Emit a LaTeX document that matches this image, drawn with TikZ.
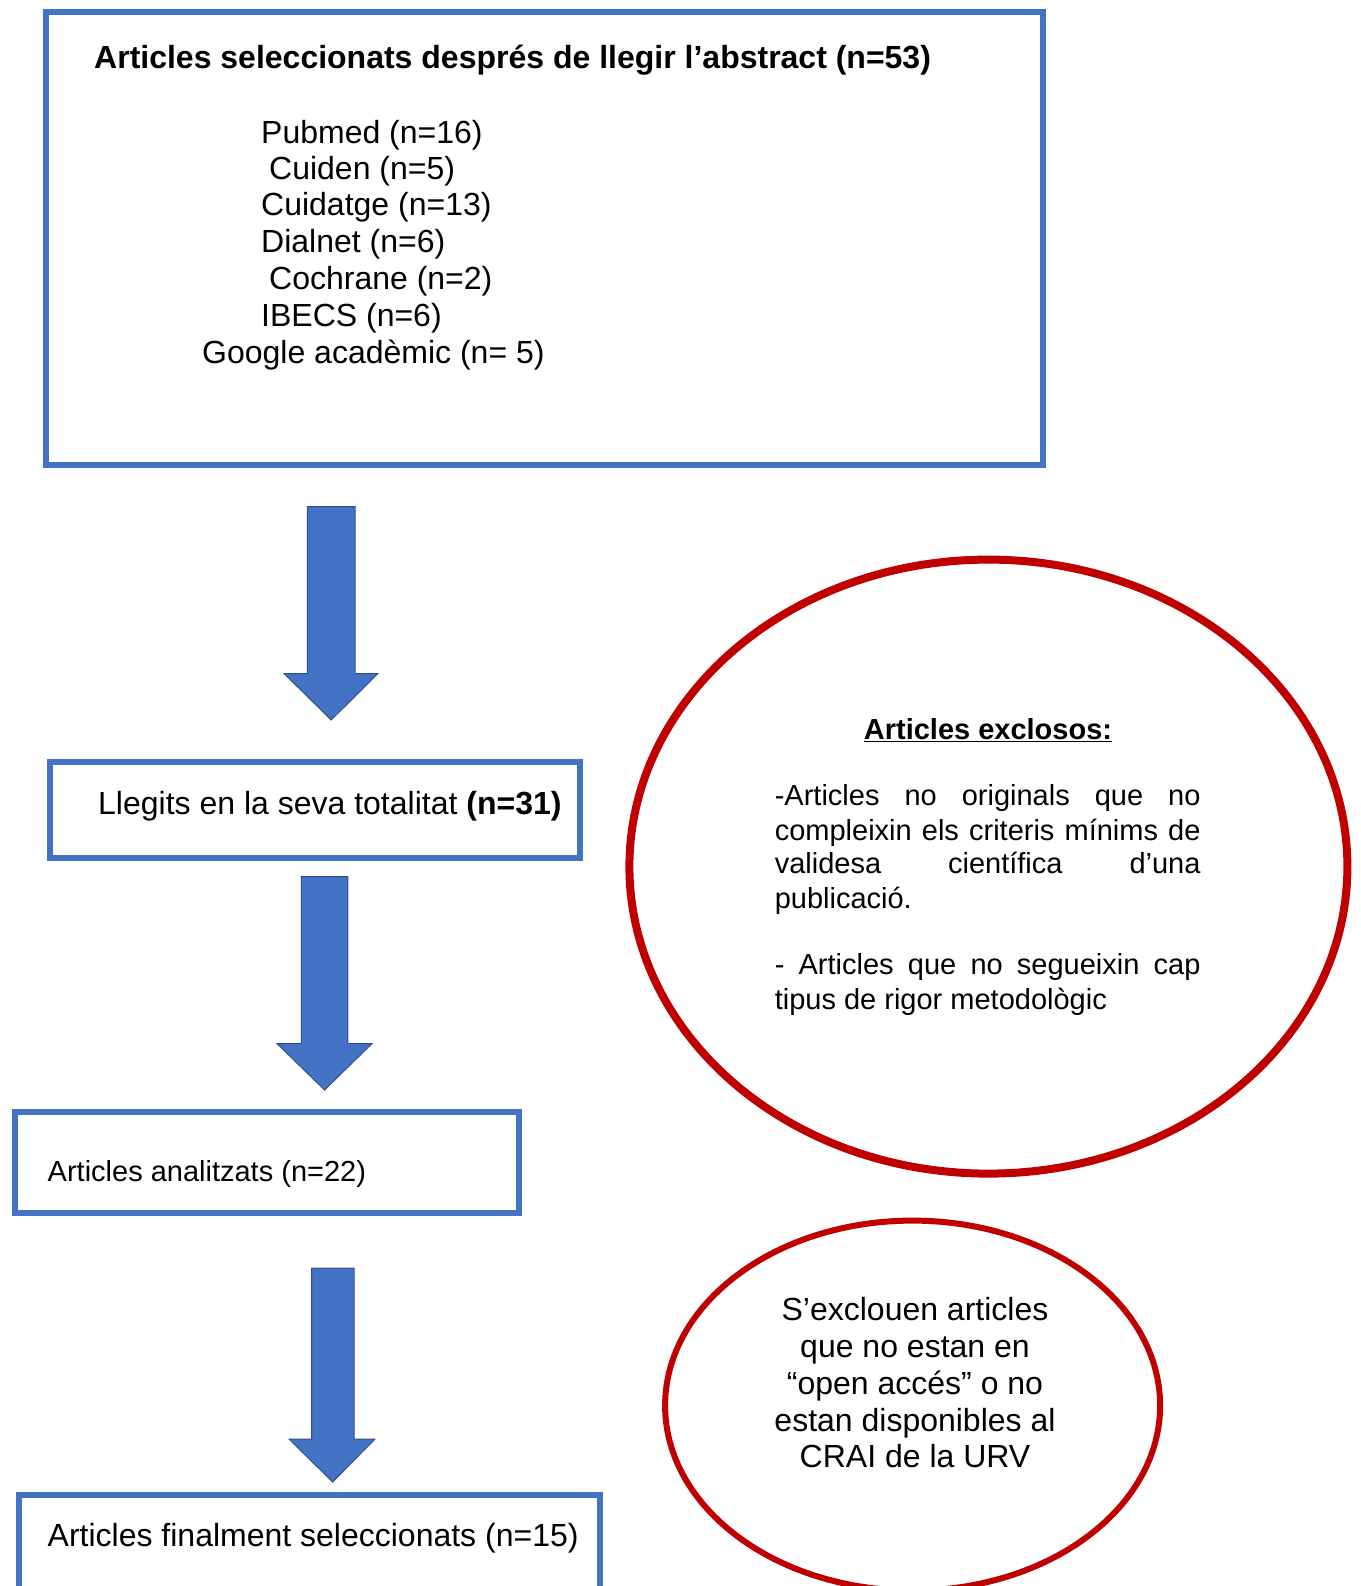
\documentclass[tikz,border=0pt]{standalone}
\usepackage{fontspec}
\setmainfont{Liberation Sans}
\usetikzlibrary{shapes.geometric}
\definecolor{boxblue}{HTML}{4472C4}
\definecolor{arrowedge}{HTML}{2F528F}
\definecolor{exred}{HTML}{C00000}
\newcommand\fbig{\fontsize{32}{38}\selectfont}
\newcommand\fsml{\fontsize{29}{34}\selectfont}
\begin{document}
\begin{tikzpicture}[x=1pt,y=-1pt,
  box/.style={draw=boxblue, line width=6pt, rectangle, inner sep=0pt},
  ln/.style={anchor=mid west, inner sep=0pt, font=\fbig},
  lns/.style={anchor=mid west, inner sep=0pt, font=\fsml},
  lnc/.style={anchor=mid, inner sep=0pt, font=\fbig},
  blockarrow/.style={fill=boxblue, draw=arrowedge, line width=1pt, line join=miter},
  oval/.style={ellipse, draw=exred, inner sep=0pt}]
\useasboundingbox (0,0) rectangle (1360,1586);
\clip (0,0) rectangle (1360,1586);
\fill[white] (0,0) rectangle (1360,1586);

% boxes
\node[box, minimum width=997pt, minimum height=453pt] (top) at (544.05,238.5) {};
\node[box, minimum width=530pt, minimum height=96pt] (read) at (314.5,809.5) {};
\node[box, minimum width=504pt, minimum height=100.5pt] (anal) at (267,1162.25) {};
\node[box, minimum width=581pt, minimum height=125.5pt] (final) at (309.5,1557.25) {};

% ellipses
\node[oval, line width=8pt, minimum width=718pt, minimum height=614pt] (excl) at (988.4,866.6) {};
\node[oval, line width=6pt, minimum width=495pt, minimum height=370pt] (open) at (912.6,1405.6) {};

% top box text
\node[ln, font=\fbig\bfseries] (title) at (94,66) {Articles seleccionats després de llegir l’abstract (n=53)};
\node[ln] (l1) at (261,140.5) {Pubmed (n=16)};
\node[ln] (l2) at (269,176.9) {Cuiden (n=5)};
\node[ln] (l3) at (261,213.3) {Cuidatge (n=13)};
\node[ln] (l4) at (261,249.7) {Dialnet (n=6)};
\node[ln] (l5) at (269,287.1) {Cochrane (n=2)};
\node[ln] (l6) at (261,323.5) {IBECS (n=6)};
\node[ln] (l7) at (202,360.9) {Google acadèmic (n= 5)};

% other boxes text
\node[ln] (readtxt) at (98,812) {Llegits en la seva totalitat \textbf{(n=31)}};
\node[lns] (analtxt) at (47.5,1179) {Articles analitzats (n=22)};
\node[ln] (finaltxt) at (47.5,1544) {Articles finalment seleccionats (n=15)};

% excluded ellipse text
\node[anchor=mid, inner sep=0pt, font=\fsml\bfseries] (exhead) at (988,736.5) {\underline{Articles exclosos:}};
\node[lns] (e1) at (774.6,803.3) {\makebox[425.7pt][s]{-Articles no originals que no}};
\node[lns] (e2) at (774.6,837.7) {\makebox[425.7pt][s]{compleixin els criteris mínims de}};
\node[lns] (e3) at (774.6,871.1) {\makebox[425.7pt][s]{validesa científica d’una}};
\node[lns] (e4) at (774.6,905.5) {publicació.};
\node[lns] (e5) at (774.6,972.2) {\makebox[425.7pt][s]{- Articles que no segueixin cap}};
\node[lns] (e6) at (774.6,1006.5) {tipus de rigor metodològic};

% open access ellipse text
\node[lnc] (o1) at (915,1317.5) {S’exclouen articles};
\node[lnc] (o2) at (915,1355) {que no estan en};
\node[lnc] (o3) at (915,1391.4) {“open accés” o no};
\node[lnc] (o4) at (915,1428.7) {estan disponibles al};
\node[lnc] (o5) at (915,1465.1) {CRAI de la URV};

% block arrows
\path[blockarrow] (307.4,506.6) -- (355,506.6) -- (355,673.5) -- (378,673.5) -- (331.2,720) -- (284,673.5) -- (307.4,673.5) -- cycle;
\path[blockarrow] (301.3,876.7) -- (347.9,876.7) -- (347.9,1043.6) -- (372,1043.6) -- (324.6,1090) -- (277,1043.6) -- (301.3,1043.6) -- cycle;
\path[blockarrow] (311.5,1268) -- (354,1268) -- (354,1439) -- (375,1439) -- (332.7,1482) -- (289,1439) -- (311.5,1439) -- cycle;
\end{tikzpicture}
\end{document}
